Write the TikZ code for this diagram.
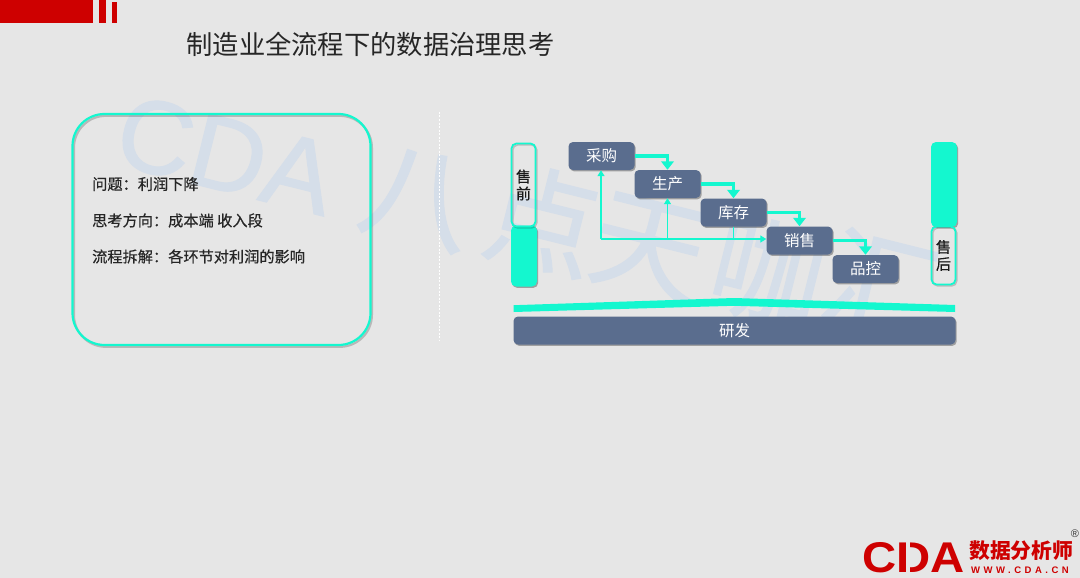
\documentclass[tikz,border=0pt]{standalone}
\usepackage{fontspec}
\setmainfont{Noto Sans CJK SC}
\newfontfamily\latinf{Liberation Sans}
\newfontfamily\latinwm[RawFeature={embolden=1.2}]{Liberation Sans}
\newfontfamily\spacedf[LetterSpace=37]{Liberation Sans}
\newfontfamily\heavyf[RawFeature={embolden=0.5}]{Noto Sans CJK SC}
\newfontfamily\wmf[RawFeature={embolden=1.2}]{Noto Sans CJK SC}
\usetikzlibrary{arrows.meta,shadows,calc}
\definecolor{bgc}{HTML}{E6E6E6}
\definecolor{teal1}{HTML}{14F7CF}
\definecolor{slate}{HTML}{5A6D8E}
\definecolor{redc}{HTML}{CE0000}
\definecolor{wm}{HTML}{D5DEE9}
\tikzset{
 x=1pt,y=-1pt,
 softshadow/.style={drop shadow={shadow xshift=1.2pt,shadow yshift=-1.4pt,fill=black,opacity=.3}},
 stage/.style={draw=none,fill=slate,rounded corners=4.5pt,minimum width=66pt,minimum height=28pt,inner sep=0pt,text=white,font=\fontsize{15.5}{15.5}\selectfont,softshadow},
 outlinebar/.style={draw=teal1,line width=1.8pt,rounded corners=5pt,minimum width=24pt,inner sep=0pt,align=center,font=\heavyf\fontsize{15}{17}\selectfont,text=black!90,
   preaction={draw=black,draw opacity=.18,line width=1.6pt,transform canvas={xshift=1.2pt,yshift=-1.4pt}}},
 solidbar/.style={fill=teal1,rounded corners=5pt,minimum width=26pt,inner sep=0pt,softshadow},
 flow/.style={color=teal1,line width=3.4pt,-{Triangle[length=8.5pt,width=12.5pt]}},
 thinflow/.style={color=teal1,line width=1.3pt,-{Triangle[length=6pt,width=7pt]}},
 thinline/.style={color=teal1,line width=1.3pt},
 wmtext/.style={text=wm,inner sep=0pt,rotate=-14},
 body/.style={anchor=west,inner sep=0pt,font=\heavyf\fontsize{15.2}{16}\selectfont,text=black!85},
 redbox/.style={fill=redc,draw=none},
}
\begin{document}
\begin{tikzpicture}
\useasboundingbox (0,0) rectangle (1080,578);
\fill[bgc] (0,0) rectangle (1080,578);
% watermark
\node[wmtext,font=\latinwm\fontsize{104}{104}\selectfont] (wm1) at (226,155) {CDA};
\node[wmtext,font=\wmf\fontsize{112}{112}\selectfont] (wm2) at (418,198) {八};
\node[wmtext,font=\wmf\fontsize{112}{112}\selectfont] (wm3) at (543,220) {点};
\node[wmtext,font=\wmf\fontsize{112}{112}\selectfont] (wm4) at (648,248) {天};
\node[wmtext,font=\wmf\fontsize{112}{112}\selectfont] (wm5) at (768,272) {咖};
\node[wmtext,font=\wmf\fontsize{112}{112}\selectfont] (wm6) at (880,285) {汇};
% top band
\fill[redbox] (0,0) rectangle (93,23);
\fill[redbox] (99,0) rectangle (106,23);
\fill[redbox] (112,2) rectangle (117,23);
\node[inner sep=0pt,font=\fontsize{26.3}{26}\selectfont,text=black!85] (title) at (370.5,44) {制造业全流程下的数据治理思考};
% left panel
\node[draw=teal1,line width=2.2pt,rounded corners=32pt,minimum width=298pt,minimum height=231pt,inner sep=0pt,
  preaction={draw=black,draw opacity=.2,line width=2.2pt,transform canvas={xshift=1.4pt,yshift=-1.8pt}}] (panel) at (221.5,229.5) {};
\node[body] (q1) at (92,184) {问题：利润下降};
\node[body] (q2) at (92,220.5) {思考方向：成本端 收入段};
\node[body] (q3) at (92,256.5) {流程拆解：各环节对利润的影响};
\coordinate (divtop) at (439,112);
\coordinate (divbot) at (439,341);
\draw[white,dash pattern=on 2pt off 1.5pt,line width=.9pt] (divtop) -- (divbot);
% bars
\node[solidbar,minimum height=61pt] (pres) at (524,256) {};
\node[outlinebar,minimum height=83pt] (pre) at (523.5,185) {售\\前};
\node[solidbar,minimum height=85pt] (post) at (944,184.5) {};
\node[outlinebar,minimum height=58pt] (aft) at (943.5,255.5) {售\\后};
% stages
\node[stage] (s1) at (601.5,156) {采购};
\node[stage] (s2) at (667.5,184) {生产};
\node[stage] (s3) at (733.5,212.5) {库存};
\node[stage] (s4) at (799.5,240.5) {销售};
\node[stage] (s5) at (865.5,269) {品控};
\draw[flow] (s1.east) -| (s2.north);
\draw[flow] (s2.east) -| (s3.north);
\draw[flow] (s3.east) -| (s4.north);
\draw[flow] (s4.east) -| (s5.north);
% feedback
\coordinate (fb) at (601,239);
\draw[thinflow] (fb) -- (s4.west |- fb);
\draw[thinflow] (fb) -- (s1.south -| fb);
\draw[thinflow] (s2.south |- fb) -- (s2.south);
\draw[thinline] (s3.south) -- (s3.south |- fb);
% ridge
\fill[teal1] (513.5,305.2) -- (734,298) -- (955,305) -- (955,312) -- (734,305.8) -- (513.5,312) -- cycle;
\node[stage,minimum width=442pt,minimum height=28pt] (rd) at (734.5,330.5) {研发};
% logo
\node[inner sep=0pt,text=redc,font=\latinf\bfseries\fontsize{43}{43}\selectfont,anchor=west,xscale=1.1] (logo) at (862,557.5) {CDA};
\fill[bgc] (906,540) rectangle (909.5,575);
\node[inner sep=0pt,text=redc,font=\bfseries\fontsize{20.8}{21}\selectfont,anchor=west] (logo2) at (969,551) {数据分析师};
\node[inner sep=0pt,text=redc,font=\spacedf\bfseries\fontsize{9.5}{10}\selectfont,anchor=west] (logo3) at (971,570) {WWW.CDA.CN};
\node[inner sep=0pt,text=black!80,font=\latinf\fontsize{11}{11}\selectfont] (reg) at (1075,533.5) {®};
\end{tikzpicture}
\end{document}
